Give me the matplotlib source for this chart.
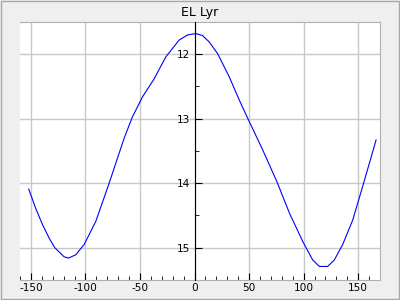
import matplotlib
matplotlib.use("Agg")
import matplotlib.pyplot as plt
from matplotlib.patches import Rectangle
from matplotlib.ticker import MultipleLocator

plt.rcParams["axes.unicode_minus"] = False

# light curve of EL Lyr
phase = [-152, -145.6, -139.4, -133.3, -128.1, -119.6, -115.6, -108.9, -101.2,
         -90.5, -78.3, -64.5, -56.9, -47.7, -37, -26.3, -14.1, -6.4, 1.2, 7.3,
         13.5, 21.1, 31.8, 41, 49.5, 62.4, 76.1, 86.9, 99.1, 108.3, 114.4, 122,
         128.1, 135.8, 145, 154.1, 166.4]
mag = [14.09, 14.39, 14.64, 14.85, 15.0, 15.14, 15.16, 15.11, 14.95,
       14.59, 14.0, 13.30, 12.97, 12.66, 12.38, 12.04, 11.78, 11.70, 11.68, 11.71,
       11.81, 11.99, 12.35, 12.71, 13.02, 13.48, 14.0, 14.46, 14.90, 15.19, 15.29, 15.29,
       15.19, 14.95, 14.57, 14.05, 13.33]
x_ticks = [-150, -100, -50, 0, 50, 100, 150]
y_ticks = [12, 13, 14, 15]

fig = plt.figure(figsize=(4, 3), dpi=100, facecolor="#efefef")
fig.patches.append(Rectangle((0.002, 0.003), 0.995, 0.993, transform=fig.transFigure,
                             fill=False, edgecolor="#a8a8a8", linewidth=1))
ax = fig.add_axes([0.05, 0.0667, 0.9, 0.86])
ax.set_facecolor("white")

ax.plot(phase, mag, color="blue", linewidth=0.8)

ax.set_xlim(-160, 170)
ax.set_ylim(15.5, 11.5)
ax.set_xticks(x_ticks)
ax.set_yticks(y_ticks)
ax.xaxis.set_minor_locator(MultipleLocator(10))
ax.yaxis.set_minor_locator(MultipleLocator(0.5))
ax.grid(True, which="major", color="#c8c8c8", linewidth=1)
ax.set_axisbelow(True)

for s in ["top", "right", "bottom"]:
    ax.spines[s].set_color("#b0b0b0")
ax.spines["left"].set_position(("data", 0))
ax.spines["left"].set_color("black")
ax.spines["left"].set_zorder(3)

ax.tick_params(axis="x", which="major", direction="in", length=5, labelsize=7.6, pad=2)
ax.tick_params(axis="x", which="minor", direction="in", length=3)
ax.tick_params(axis="y", which="major", direction="in", length=5, labelsize=7.6, pad=3)
ax.tick_params(axis="y", which="minor", direction="in", length=3)

ax.set_title("EL Lyr", fontsize=9, pad=4)

fig.savefig("out.png", dpi=100, facecolor=fig.get_facecolor())
